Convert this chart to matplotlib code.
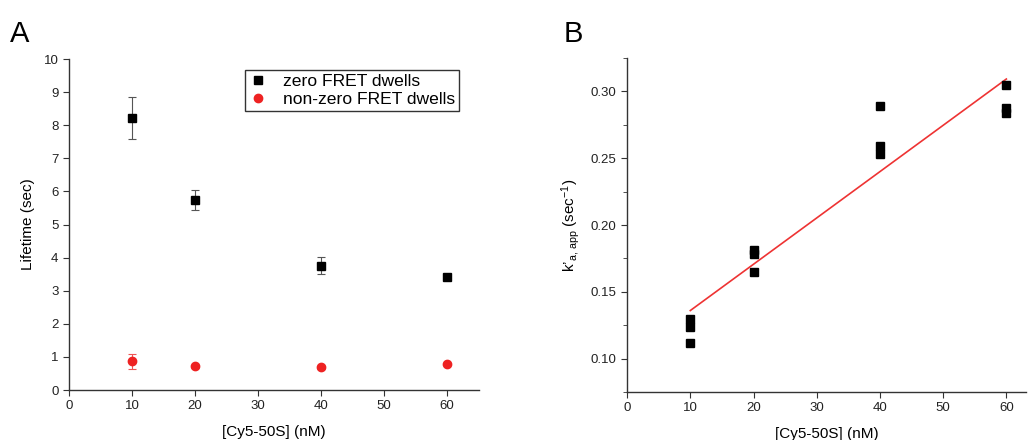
import matplotlib
matplotlib.use('Agg')
import matplotlib.pyplot as plt
from matplotlib.ticker import MultipleLocator, FormatStrFormatter
import numpy as np

plt.rcParams['font.family'] = ['Liberation Sans', 'DejaVu Sans']
plt.rcParams['mathtext.fontset'] = 'custom'
plt.rcParams['mathtext.rm'] = 'Liberation Sans'
plt.rcParams['mathtext.it'] = 'Liberation Sans'

# concentrations of Cy5-50S (nM)
conc = [10, 20, 40, 60]

# panel A: dwell lifetimes (sec) with error bars
zero_life = [8.21, 5.74, 3.76, 3.42]
zero_err = [0.63, 0.30, 0.27, 0.08]
nonzero_life = [0.87, 0.72, 0.69, 0.79]
nonzero_err = [0.22, 0.04, 0.04, 0.03]

# panel B: apparent association rates, three replicates per concentration
rate_conc = [10, 10, 10, 20, 20, 20, 40, 40, 40, 60, 60, 60]
rate_vals = [0.130, 0.124, 0.112, 0.181, 0.178, 0.165,
             0.289, 0.259, 0.253, 0.305, 0.288, 0.284]

axcol = '#333333'
fig = plt.figure(figsize=(10.28, 4.4), dpi=100)


def style_axes(ax):
    for s in ['top', 'right']:
        ax.spines[s].set_visible(False)
    for s in ['left', 'bottom']:
        ax.spines[s].set_color(axcol)
        ax.spines[s].set_linewidth(1.0)
    ax.tick_params(which='both', direction='out', colors=axcol, labelsize=9.5,
                   labelcolor='#222222')
    ax.tick_params(which='major', length=4)
    ax.tick_params(which='minor', length=3)


# panel A
axA = fig.add_axes([0.0671, 0.1136, 0.399, 0.7523])
style_axes(axA)
zero_eb = axA.errorbar(conc, zero_life, yerr=zero_err, fmt='s', color='black', ms=5.5,
                       ecolor='#555555', elinewidth=0.8, capsize=3, capthick=0.8,
                       label='zero FRET dwells', zorder=3)
nonzero_eb = axA.errorbar(conc, nonzero_life, yerr=nonzero_err, fmt='o', color='#ee2222',
                          ms=6, ecolor='#ee5555', elinewidth=0.8, capsize=3, capthick=0.8,
                          label='non-zero FRET dwells', zorder=3)
axA.set_xlim(0, 65.1)
axA.set_ylim(0, 10)
axA.xaxis.set_major_locator(MultipleLocator(10))
axA.yaxis.set_major_locator(MultipleLocator(1))
axA.set_xlabel('[Cy5-50S] (nM)', fontsize=11, labelpad=9)
axA.set_ylabel('Lifetime (sec)', fontsize=11, labelpad=6)
leg = axA.legend(handles=[zero_eb[0], nonzero_eb[0]],
                 labels=['zero FRET dwells', 'non-zero FRET dwells'],
                 loc='upper right', bbox_to_anchor=(0.951, 0.968), fontsize=12.6,
                 frameon=True, fancybox=False, handletextpad=0.9,
                 borderpad=0.25, labelspacing=0.15, handlelength=1.0,
                 borderaxespad=0)
leg.get_frame().set_edgecolor('black')
leg.get_frame().set_linewidth(1.0)
fig.text(0.010, 0.905, 'A', fontsize=21, color='black')

# panel B
axB = fig.add_axes([0.610, 0.109, 0.388, 0.759])
style_axes(axB)
axB.plot(rate_conc, rate_vals, 's', color='black', ms=5.5, zorder=3)
slope, intercept = np.polyfit(rate_conc, rate_vals, 1)
xfit = np.array([min(rate_conc), max(rate_conc)])
axB.plot(xfit, slope * xfit + intercept, color='#ee3333', lw=1.2, zorder=2)
axB.set_xlim(0, 63.1)
axB.set_ylim(0.075, 0.325)
axB.xaxis.set_major_locator(MultipleLocator(10))
axB.yaxis.set_major_locator(MultipleLocator(0.05))
axB.yaxis.set_minor_locator(MultipleLocator(0.025))
axB.yaxis.set_major_formatter(FormatStrFormatter('%.2f'))
axB.set_xlabel('[Cy5-50S] (nM)', fontsize=11, labelpad=9)
axB.set_ylabel(r'k’$_{\mathregular{a,\,app}}$ (sec$^{\mathregular{-1}}$)', fontsize=11, labelpad=6)
fig.text(0.548, 0.905, 'B', fontsize=21, color='black')

fig.savefig('out.png', dpi=100)
